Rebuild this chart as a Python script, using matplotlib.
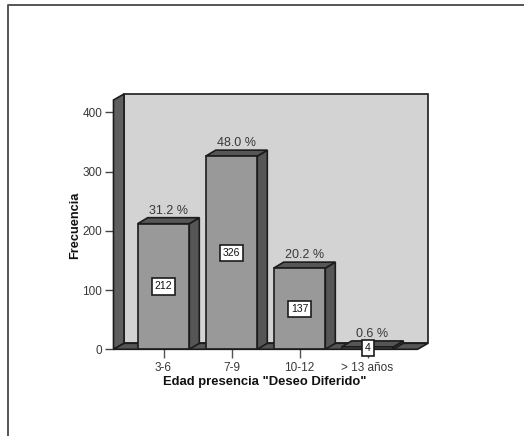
"""Frecuencia por edad de presencia del deseo diferido (barras falso 3D)."""
import matplotlib
matplotlib.use("Agg")
import matplotlib.pyplot as plt
from matplotlib.lines import Line2D
from matplotlib.patches import Polygon

categorias = ["3-6", "7-9", "10-12", "> 13 años"]
frecuencias = [212, 326, 137, 4]
porcentajes = ["31.2 %", "48.0 %", "20.2 %", "0.6 %"]
yticks = [0, 100, 200, 300, 400]

W, H = 524, 436
# plano frontal en pixeles
LEFT, RIGHT, BOTTOM, TOP = 113.5, 417.5, 349.3, 100.0
PX_X = 68.0  # pixeles entre categorias
PX_Y = 0.5925  # pixeles por unidad

GRIS_TEXTO = "#383838"
BORDE = "#1c1c1c"

plt.rcParams["font.family"] = ["Liberation Sans", "DejaVu Sans"]

fig = plt.figure(figsize=(W / 100, H / 100), dpi=100)
ax = fig.add_axes([LEFT / W, 1 - BOTTOM / H, (RIGHT - LEFT) / W, (BOTTOM - TOP) / H])
ax.set_xlim((LEFT - 163.5) / PX_X, (RIGHT - 163.5) / PX_X)
ax.set_ylim(0, (BOTTOM - TOP) / PX_Y)
ax.patch.set_visible(False)
for s in ax.spines.values():
    s.set_visible(False)

x0, x1 = ax.get_xlim()
y1 = ax.get_ylim()[1]
dx = 10.5 / PX_X
dy = 6.0 / PX_Y


def poly(pts, color, z):
    ax.add_patch(Polygon(pts, closed=True, fc=color, ec=BORDE, lw=1.2, clip_on=False,
                         zorder=z, joinstyle="miter"))


# paredes y suelo
poly([(x0 + dx, dy), (x1 + dx, dy), (x1 + dx, y1 + dy), (x0 + dx, y1 + dy)], "#d3d3d3", 1)
poly([(x0, 0), (x0 + dx, dy), (x0 + dx, y1 + dy), (x0, y1)], "#5f5f5f", 2)
poly([(x0, 0), (x1, 0), (x1 + dx, dy), (x0 + dx, dy)], "#555555", 2)

# barras
ancho = 51.6 / PX_X
bx = 10.0 / PX_X
for i, v in enumerate(frecuencias):
    a, b = i - ancho / 2, i + ancho / 2
    poly([(b, 0), (b + bx, dy), (b + bx, v + dy), (b, v)], "#565656", 3)
    poly([(a, v), (b, v), (b + bx, v + dy), (a + bx, v + dy)], "#565656", 3)
    ax.bar(i, v, width=ancho, color="#999999", edgecolor=BORDE, linewidth=1.2, zorder=4)
    ax.annotate(porcentajes[i], (i + bx / 2, v + dy), xytext=(0, 0.5), textcoords="offset points",
                ha="center", va="bottom", fontsize=9, color=GRIS_TEXTO, zorder=6,
                annotation_clip=False)
    ax.annotate(str(v), (i, v / 2), ha="center", va="center", fontsize=7.5, color="#111111",
                zorder=7, annotation_clip=False,
                bbox=dict(boxstyle="square,pad=0.3", fc="white", ec=BORDE, lw=1.2))

ax.set_xticks(range(len(categorias)), categorias)
ax.set_yticks(yticks)
ax.tick_params(axis="x", length=6.5, width=1, color="#555555", labelsize=8.5,
               labelcolor=GRIS_TEXTO, pad=3)
ax.tick_params(axis="y", length=6.5, width=1, color="#444444", labelsize=8.5,
               labelcolor=GRIS_TEXTO, pad=1.5)
for t in ax.get_xticklines() + ax.get_yticklines():
    t.set_zorder(5)

fig.text(265 / W, 1 - 381.7 / H, 'Edad presencia "Deseo Diferido"', ha="center", va="center",
         fontsize=9.4, fontweight="bold", color="#111111")
fig.text(75 / W, 1 - 225.5 / H, "Frecuencia", ha="center", va="center", rotation=90,
         fontsize=9.2, fontweight="bold", color="#111111")

# marco de la pagina
fig.add_artist(Line2D([7.5 / W, 7.5 / W, 1], [0, 1 - 5.5 / H, 1 - 5.5 / H], color="#555555", lw=1.4))

fig.savefig("out.png", dpi=100)
